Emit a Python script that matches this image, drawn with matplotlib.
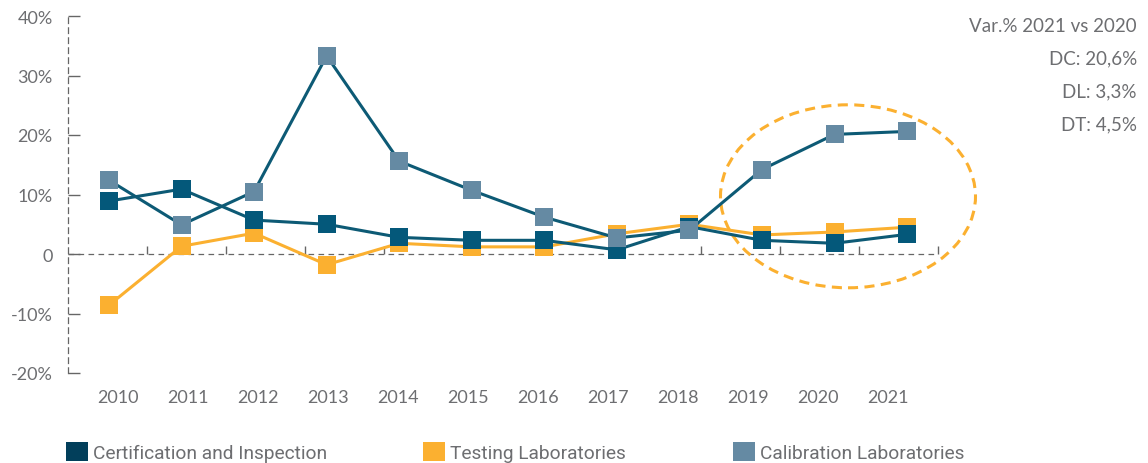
import matplotlib
matplotlib.use("Agg")
import matplotlib.pyplot as plt
from matplotlib.patches import Ellipse, Patch
from matplotlib.ticker import FixedLocator, FuncFormatter
import numpy as np

# ---- data ----
years = ["2010", "2011", "2012", "2013", "2014", "2015", "2016", "2017", "2018", "2019", "2020", "2021"]
cert = [8.9, 10.9, 5.7, 5.0, 2.8, 2.3, 2.3, 0.7, 4.6, 2.3, 1.8, 3.3]
testing = [-8.6, 1.3, 3.5, -1.8, 1.8, 1.2, 1.2, 3.4, 5.0, 3.2, 3.7, 4.5]
calib = [12.4, 4.9, 10.5, 33.3, 15.6, 10.7, 6.2, 2.7, 4.0, 14.2, 20.1, 20.6]
y_ticks = [-20, -10, 0, 10, 20, 30, 40]
series_names = ["Certification and Inspection", "Testing Laboratories", "Calibration Laboratories"]
note_lines = ["Var.% 2021 vs 2020", "DC: 20,6%", "DL: 3,3%", "DT: 4,5%"]

# ---- style ----
C_CERT = "#04587a"
C_CERT_LEG = "#023f5b"
C_TEST = "#fbb030"
C_CAL = "#658aa3"
C_LINE = "#0d5a75"
GRAY = "#6d6e71"
AX_GRAY = "#666666"

W, H = 1148, 464
fig = plt.figure(figsize=(W / 100, H / 100), dpi=100)

px_step = 72.55          # pixels between categories
x_first = 109            # pixel of first category
ax_left_px, ax_right_px = 68, 1148
ax_top_px, ax_bot_px = 17, 374
ax = fig.add_axes([ax_left_px / W, 1 - ax_bot_px / H,
                   (ax_right_px - ax_left_px) / W, (ax_bot_px - ax_top_px) / H])
x0 = (ax_left_px - x_first) / px_step
x1 = x0 + (ax_right_px - ax_left_px) / px_step
ax.set_xlim(x0, x1)
ax.set_ylim(-20, 40)

x = np.arange(len(years))
mk = dict(marker="s", markersize=12.5, markeredgewidth=0)
ax.plot(x, testing, color=C_TEST, lw=2.2, markerfacecolor=C_TEST, zorder=3, **mk)
ax.plot(x, cert, color=C_LINE, lw=2.2, markerfacecolor=C_CERT, zorder=4, **mk)
ax.plot(x, calib, color=C_LINE, lw=2.2, markerfacecolor=C_CAL, zorder=5, **mk)

# zero line and band ticks
band_w = 79.1 / px_step
n_bands = len(years) - 1
x_end = x0 + band_w * n_bands
ax.plot([x0, x_end], [0, 0], color=AX_GRAY, lw=0.9, ls=(0, (4.5, 3.5)), zorder=1)
band_x = x0 + band_w * np.arange(1, n_bands + 1)
ax.vlines(band_x, 0, 1.35, color=AX_GRAY, lw=1.0, zorder=1)

# spines & ticks
for s in ["top", "right", "bottom"]:
    ax.spines[s].set_visible(False)
ax.spines["left"].set_color(AX_GRAY)
ax.spines["left"].set_linewidth(0.9)
ax.spines["left"].set_linestyle((0, (4.5, 3.5)))
ax.yaxis.set_major_locator(FixedLocator(y_ticks))
ax.yaxis.set_major_formatter(FuncFormatter(lambda v, p: "0" if v == 0 else f"{int(v)}%"))
ax.tick_params(axis="y", direction="in", length=8.5, width=1.0, color=AX_GRAY,
               pad=11, labelsize=13, labelcolor=GRAY)
for lab in ax.get_yticklabels():
    lab.set_fontfamily("Lato")

label_off = 9 / px_step
label_step = 70 / px_step
ax.set_xticks(label_off + label_step * x)
ax.set_xticklabels(years, fontfamily="Lato")
ax.tick_params(axis="x", length=0, pad=11.5, labelsize=13, labelcolor=GRAY)

# highlight ellipse
ell = Ellipse(((848 - x_first) / px_step, (255 - 197.3) / 5.95),
              width=255 / px_step, height=183 / 5.95, fill=False, edgecolor=C_TEST,
              lw=2.2, ls=(0, (3.3, 2.1)), zorder=2, clip_on=False)
ax.add_patch(ell)

# note text
for i, t in enumerate(note_lines):
    fig.text(1137 / W, 1 - (26 + 33 * i) / H, t, ha="right", va="center",
             fontsize=13.5, color=GRAY, fontfamily="Lato")

# legend (three separate entries)
leg_colors = [C_CERT_LEG, C_TEST, C_CAL]
leg_x = [66, 423, 733]
for name, col, lx in zip(series_names, leg_colors, leg_x):
    lg = fig.legend(handles=[Patch(facecolor=col, edgecolor="none")], labels=[name],
                    loc="center left", bbox_to_anchor=(lx / W, 1 - 453 / H),
                    frameon=False, borderaxespad=0, borderpad=0,
                    handlelength=1.15, handleheight=1.15, handletextpad=0.28,
                    prop={"family": "Roboto", "size": 13.8})
    for t in lg.get_texts():
        t.set_color(GRAY)

fig.savefig("out.png", dpi=100)
